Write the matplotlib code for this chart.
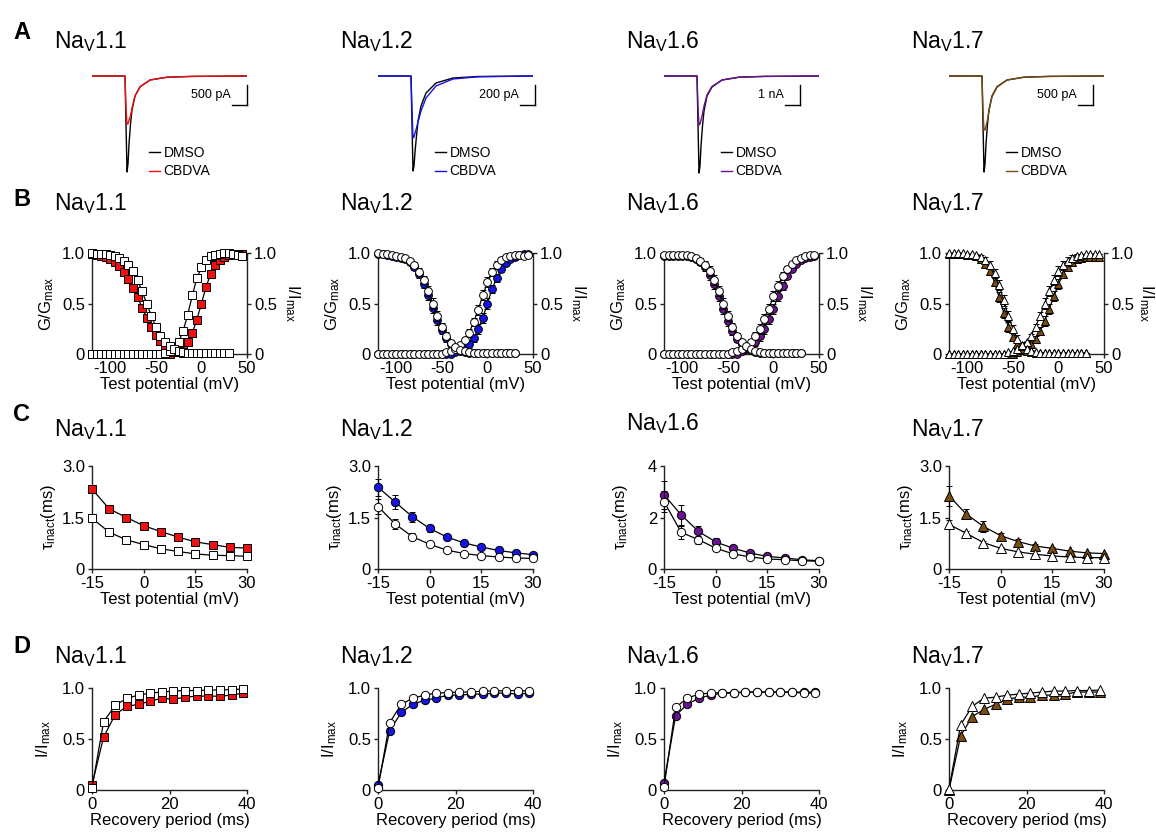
import matplotlib.pyplot as plt

plt.rcParams['font.family'] = ['Liberation Sans', 'DejaVu Sans']
plt.rcParams['mathtext.fontset'] = 'custom'
plt.rcParams['mathtext.rm'] = 'Liberation Sans'
plt.rcParams['mathtext.it'] = 'Liberation Sans:italic'
plt.rcParams['mathtext.bf'] = 'Liberation Sans:bold'
plt.rcParams['axes.unicode_minus'] = False

W, H = 1156, 836

channels = ['1.1', '1.2', '1.6', '1.7']
drug_colors = ['#f01010', '#1414e6', '#6a1290', '#7a4c10']
marks = ['s', 'o', 'o', '^']
col_x = [92, 378, 664, 949]

# ---- A: current traces (ms, pA)
trace_t = [0, 3.3, 3.4, 3.5, 3.6, 3.7, 3.85, 4.0, 4.3, 4.8, 5.8, 7.5, 10.0, 15.5]
trace_dmso = [
    [0, 0, -1200, -2400, -2200, -1700, -1200, -850, -500, -270, -100, -30, -10, 0],
    [0, 0, -480, -950, -900, -760, -600, -450, -300, -170, -70, -20, -5, 0],
    [0, 0, -2400, -4850, -4500, -3500, -2500, -1750, -1000, -550, -200, -60, -20, 0],
    [0, 0, -1200, -2400, -2200, -1700, -1200, -850, -500, -270, -100, -30, -10, 0],
]
trace_cbdva = [
    [0, 0, -800, -1200, -1200, -1100, -1000, -800, -500, -270, -100, -30, -10, 0],
    [0, 0, -350, -620, -610, -570, -520, -460, -350, -220, -100, -30, -8, 0],
    [0, 0, -1600, -2450, -2400, -2200, -1900, -1500, -950, -520, -200, -60, -20, 0],
    [0, 0, -900, -1350, -1350, -1250, -1100, -850, -520, -280, -100, -30, -10, 0],
]
scale_pa = [500, 200, 1000, 500]
scale_txt = ['500 pA', '200 pA', '1 nA', '500 pA']
scale_end = [15.5, 15.7, 13.6, 14.4]

# ---- B: activation / steady-state inactivation
v_act = list(range(-120, 50, 5))
v_inact = list(range(-120, 35, 5))
act_dmso = [
    [0, 0, 0, 0, 0, 0, 0, 0, 0, 0, 0, 0, 0, 0, 0, 0,
     0.01, 0.03, 0.06, 0.12, 0.23, 0.39, 0.58, 0.75, 0.86, 0.93, 0.97, 0.98, 0.99, 1.00, 1.00, 0.99, 0.98, 0.97],
    [0, 0, 0, 0, 0, 0, 0, 0, 0, 0, 0, 0, 0, 0, 0,
     0.02, 0.03, 0.05, 0.09, 0.14, 0.21, 0.32, 0.44, 0.58, 0.71, 0.81, 0.88, 0.93, 0.96, 0.97, 0.98, 0.98, 0.97, 0.98],
    [0, 0, 0, 0, 0, 0, 0, 0, 0, 0, 0, 0, 0, 0, 0,
     0.02, 0.034, 0.052, 0.079, 0.12, 0.175, 0.25, 0.35, 0.45, 0.57, 0.67, 0.77, 0.84, 0.89, 0.93, 0.95, 0.97, 0.98, 0.98],
    [0, 0, 0, 0, 0, 0, 0, 0, 0, 0, 0, 0, 0,
     0.018, 0.029, 0.047, 0.076, 0.12, 0.18, 0.27, 0.38, 0.50, 0.62, 0.73, 0.82, 0.88, 0.92, 0.95, 0.97, 0.98, 0.99, 0.99, 0.99, 0.99],
]
act_cbdva = [
    [0, 0, 0, 0, 0, 0, 0, 0, 0, 0, 0, 0, 0, 0, 0, 0, 0, 0,
     0.02, 0.035, 0.065, 0.12, 0.21, 0.34, 0.50, 0.66, 0.79, 0.88, 0.935, 0.965, 0.98, 0.99, 0.99, 0.99],
    [0, 0, 0, 0, 0, 0, 0, 0, 0, 0, 0, 0, 0, 0, 0, 0, 0,
     0.02, 0.034, 0.058, 0.10, 0.16, 0.25, 0.36, 0.50, 0.64, 0.75, 0.84, 0.90, 0.94, 0.965, 0.98, 0.99, 0.99],
    [0, 0, 0, 0, 0, 0, 0, 0, 0, 0, 0, 0, 0, 0, 0, 0, 0,
     0.034, 0.052, 0.08, 0.12, 0.175, 0.25, 0.35, 0.45, 0.57, 0.67, 0.77, 0.84, 0.89, 0.93, 0.95, 0.96, 0.97],
    [0, 0, 0, 0, 0, 0, 0, 0, 0, 0, 0, 0, 0, 0, 0,
     0.024, 0.039, 0.063, 0.10, 0.15, 0.23, 0.33, 0.45, 0.57, 0.69, 0.79, 0.86, 0.91, 0.94, 0.95, 0.96, 0.96, 0.96, 0.96],
]
act_err = [
    [0, 0, 0, 0, 0, 0, 0, 0, 0, 0, 0, 0, 0, 0, 0, 0, 0,
     0.02, 0.02, 0.02, 0.02, 0.02, 0.02, 0.02, 0.02, 0.02, 0.02, 0.02, 0.02, 0, 0, 0, 0, 0],
    [0, 0, 0, 0, 0, 0, 0, 0, 0, 0, 0, 0, 0, 0, 0, 0, 0,
     0.01, 0.02, 0.03, 0.04, 0.04, 0.05, 0.05, 0.05, 0.04, 0.04, 0.03, 0.02, 0.01, 0, 0, 0, 0],
    [0, 0, 0, 0, 0, 0, 0, 0, 0, 0, 0, 0, 0, 0, 0, 0, 0,
     0.01, 0.02, 0.03, 0.04, 0.05, 0.05, 0.05, 0.05, 0.05, 0.04, 0.03, 0.02, 0.01, 0, 0, 0, 0],
    [0, 0, 0, 0, 0, 0, 0, 0, 0, 0, 0, 0, 0, 0, 0, 0, 0,
     0.01, 0.02, 0.03, 0.04, 0.05, 0.05, 0.05, 0.05, 0.04, 0.04, 0.03, 0.02, 0.01, 0, 0, 0, 0],
]
inact_dmso = [
    [1.00, 0.99, 0.99, 0.99, 0.98, 0.97, 0.95, 0.92, 0.88, 0.82, 0.73, 0.62, 0.50, 0.38, 0.27, 0.18,
     0.12, 0.08, 0.05, 0.03, 0.02, 0.01, 0.01, 0.01, 0.01, 0.01, 0.01, 0.01, 0.01, 0.01, 0.01],
    [1.00, 0.99, 0.99, 0.98, 0.97, 0.96, 0.95, 0.92, 0.88, 0.81, 0.73, 0.62, 0.50, 0.38, 0.27, 0.18,
     0.11, 0.07, 0.04, 0.03, 0.02, 0.01, 0.01, 0.01, 0.01, 0.01, 0.01, 0.01, 0.01, 0.01, 0.01],
    [0.98, 0.98, 0.98, 0.98, 0.98, 0.98, 0.97, 0.95, 0.92, 0.88, 0.82, 0.73, 0.62, 0.50, 0.38, 0.27,
     0.18, 0.12, 0.08, 0.05, 0.03, 0.02, 0.01, 0.01, 0.01, 0.01, 0.01, 0.01, 0.01, 0.01, 0.01],
    [1.00, 1.00, 1.00, 1.00, 0.99, 0.99, 0.98, 0.96, 0.93, 0.88, 0.80, 0.68, 0.53, 0.38, 0.25, 0.15,
     0.085, 0.047, 0.026, 0.015, 0.01, 0.01, 0.01, 0.01, 0.01, 0.01, 0.01, 0.01, 0.01, 0.01, 0.01],
]
inact_cbdva = [
    [0.99, 0.98, 0.97, 0.96, 0.94, 0.91, 0.87, 0.81, 0.74, 0.65, 0.56, 0.46, 0.36, 0.27, 0.19, 0.13,
     0.08, 0.05, 0.03, 0.02, 0.01, 0.01, 0.01, 0.01, 0.01, 0.01, 0.01, 0.01, 0.01, 0.01, 0.01],
    [0.99, 0.99, 0.98, 0.97, 0.96, 0.95, 0.94, 0.91, 0.86, 0.79, 0.69, 0.58, 0.46, 0.34, 0.24, 0.16,
     0.10, 0.06, 0.04, 0.02, 0.01, 0.01, 0.01, 0.01, 0.01, 0.01, 0.01, 0.01, 0.01, 0.01, 0.01],
    [0.97, 0.97, 0.97, 0.97, 0.97, 0.97, 0.96, 0.94, 0.91, 0.86, 0.78, 0.69, 0.57, 0.45, 0.33, 0.23,
     0.15, 0.10, 0.06, 0.04, 0.02, 0.01, 0.01, 0.01, 0.01, 0.01, 0.01, 0.01, 0.01, 0.01, 0.01],
    [0.99, 0.99, 0.99, 0.99, 0.98, 0.98, 0.97, 0.94, 0.89, 0.82, 0.71, 0.56, 0.41, 0.27, 0.17, 0.095,
     0.053, 0.03, 0.016, 0.01, 0.01, 0.01, 0.01, 0.01, 0.01, 0.01, 0.01, 0.01, 0.01, 0.01, 0.01],
]
inact_err = [
    [0, 0, 0, 0, 0, 0, 0.01, 0.01, 0.02, 0.02, 0.02, 0.02, 0.02, 0.02, 0.02, 0.02, 0.01, 0.01,
     0, 0, 0, 0, 0, 0, 0, 0, 0, 0, 0, 0, 0],
    [0, 0, 0, 0, 0, 0, 0.01, 0.02, 0.03, 0.04, 0.04, 0.05, 0.05, 0.05, 0.04, 0.04, 0.03, 0.02,
     0.01, 0, 0, 0, 0, 0, 0, 0, 0, 0, 0, 0, 0],
    [0, 0, 0, 0, 0, 0, 0.01, 0.02, 0.03, 0.04, 0.05, 0.05, 0.05, 0.05, 0.05, 0.04, 0.03, 0.02,
     0.01, 0, 0, 0, 0, 0, 0, 0, 0, 0, 0, 0, 0],
    [0, 0, 0, 0, 0, 0, 0.01, 0.02, 0.03, 0.04, 0.04, 0.05, 0.05, 0.05, 0.04, 0.04, 0.03, 0.02,
     0.01, 0, 0, 0, 0, 0, 0, 0, 0, 0, 0, 0, 0],
]

# ---- C: inactivation time constants
v_tau = [-15, -10, -5, 0, 5, 10, 15, 20, 25, 30]
tau_dmso = [
    [1.48, 1.07, 0.85, 0.71, 0.59, 0.51, 0.44, 0.40, 0.39, 0.37],
    [1.82, 1.31, 0.94, 0.72, 0.55, 0.45, 0.39, 0.35, 0.32, 0.31],
    [2.62, 1.42, 1.14, 0.81, 0.59, 0.47, 0.39, 0.36, 0.32, 0.30],
    [1.30, 1.04, 0.77, 0.60, 0.50, 0.43, 0.38, 0.35, 0.33, 0.33],
]
tau_dmso_err = [
    [0.06, 0.04, 0.03, 0.03, 0.02, 0.02, 0.02, 0.02, 0.02, 0.02],
    [0.22, 0.15, 0.10, 0.05, 0.04, 0.03, 0.02, 0.02, 0.02, 0.02],
    [0.40, 0.25, 0.15, 0.10, 0.05, 0.04, 0.03, 0.02, 0.02, 0.02],
    [0.12, 0.08, 0.05, 0.04, 0.03, 0.02, 0.02, 0.02, 0.02, 0.02],
]
tau_cbdva = [
    [2.33, 1.75, 1.50, 1.26, 1.09, 0.93, 0.79, 0.71, 0.63, 0.61],
    [2.38, 1.95, 1.52, 1.18, 0.93, 0.76, 0.64, 0.54, 0.47, 0.42],
    [2.88, 2.10, 1.46, 1.05, 0.81, 0.62, 0.49, 0.43, 0.36, 0.32],
    [2.13, 1.60, 1.24, 0.97, 0.80, 0.67, 0.60, 0.52, 0.47, 0.45],
]
tau_cbdva_err = [
    [0.08, 0.06, 0.05, 0.04, 0.04, 0.03, 0.03, 0.03, 0.02, 0.02],
    [0.25, 0.20, 0.15, 0.10, 0.06, 0.05, 0.04, 0.03, 0.03, 0.02],
    [0.55, 0.40, 0.22, 0.15, 0.08, 0.06, 0.04, 0.03, 0.03, 0.02],
    [0.30, 0.15, 0.15, 0.08, 0.06, 0.05, 0.04, 0.03, 0.03, 0.03],
]
tau_ymax = [3.0, 3.0, 4.0, 3.0]
tau_yticks = [[0, 1.5, 3.0], [0, 1.5, 3.0], [0, 2, 4], [0, 1.5, 3.0]]
tau_ylabels = [['0', '1.5', '3.0'], ['0', '1.5', '3.0'], ['0', '2', '4'], ['0', '1.5', '3.0']]

# ---- D: recovery from inactivation
t_rec = [0, 3, 6, 9, 12, 15, 18, 21, 24, 27, 30, 33, 36, 39]
rec_dmso = [
    [0.02, 0.67, 0.83, 0.90, 0.93, 0.95, 0.96, 0.97, 0.975, 0.975, 0.98, 0.98, 0.985, 0.99],
    [0.02, 0.66, 0.84, 0.90, 0.93, 0.95, 0.955, 0.96, 0.96, 0.97, 0.97, 0.975, 0.975, 0.97],
    [0.03, 0.81, 0.90, 0.94, 0.95, 0.955, 0.955, 0.96, 0.96, 0.96, 0.96, 0.96, 0.95, 0.95],
    [0.01, 0.64, 0.82, 0.90, 0.91, 0.93, 0.94, 0.95, 0.96, 0.97, 0.97, 0.975, 0.975, 0.98],
]
rec_cbdva = [
    [0.05, 0.52, 0.74, 0.82, 0.84, 0.87, 0.90, 0.89, 0.91, 0.92, 0.92, 0.92, 0.93, 0.95],
    [0.05, 0.58, 0.76, 0.84, 0.88, 0.90, 0.93, 0.93, 0.94, 0.94, 0.95, 0.95, 0.94, 0.95],
    [0.07, 0.73, 0.84, 0.90, 0.93, 0.95, 0.95, 0.96, 0.96, 0.96, 0.96, 0.96, 0.96, 0.96],
    [0.00, 0.53, 0.72, 0.79, 0.84, 0.89, 0.91, 0.91, 0.93, 0.93, 0.94, 0.96, 0.96, 0.96],
]

fig = plt.figure(figsize=(W / 100, H / 100), dpi=100)


def px_ax(x, y, w, h):
    return fig.add_axes([x / W, 1 - (y + h) / H, w / W, h / H])


def gp_style(ax):
    ax.spines['top'].set_visible(False)
    ax.spines['right'].set_visible(False)
    for s in ax.spines.values():
        s.set_linewidth(1.0)
        s.set_color('#222222')
    ax.tick_params(direction='out', length=3, width=1, labelsize=12, pad=2, colors='#222222')
    ax.tick_params(labelcolor='black')


def mk(i, filled, size):
    if marks[i] == '^':
        size = size * 1.15
    return dict(marker=marks[i], ms=size,
                mfc=drug_colors[i] if filled else 'white', mec='black', mew=0.7,
                color='black', lw=0.9)


def title(i, y):
    fig.text((col_x[i] - 38) / W, 1 - y / H, 'Na$_\\mathrm{V}$' + channels[i], fontsize=16.5, va='baseline')


for letter, y in zip('ABCD', [39, 206, 421, 653]):
    fig.text(13 / W, 1 - y / H, letter, fontsize=17, fontweight='bold', va='baseline')

ebar = dict(capsize=2, elinewidth=0.8, capthick=0.8, ecolor='black', clip_on=False)

for i in range(4):
    # A
    title(i, 48)
    ax = px_ax(col_x[i], 60, 155, 120)
    u = scale_pa[i] / 20.0
    ax.set_xlim(0, 15.5)
    ax.set_ylim(-104 * u, 16 * u)
    ax.axis('off')
    l1, = ax.plot(trace_t, trace_dmso[i], color='black', lw=1.0, label='DMSO')
    l2, = ax.plot(trace_t, trace_cbdva[i], color=drug_colors[i], lw=1.0, label='CBDVA')
    xe = scale_end[i]
    ax.plot([xe, xe], [-9 * u, -29 * u], color='black', lw=1.0, clip_on=False)
    ax.plot([xe - 1.5, xe], [-29 * u, -29 * u], color='black', lw=1.0, clip_on=False)
    ax.text(xe - 1.6, -19 * u, scale_txt[i], fontsize=9, ha='right', va='center')
    ax.legend(handles=[l1, l2], loc='center left',
              bbox_to_anchor=((col_x[i] + 57) / W, 1 - 162 / H), bbox_transform=fig.transFigure,
              frameon=False, fontsize=10, handlelength=0.8, handletextpad=0.25,
              labelspacing=0.35, borderpad=0, borderaxespad=0)

    # B
    title(i, 210)
    ax = px_ax(col_x[i], 253, 155, 101)
    gp_style(ax)
    ax.spines['right'].set_visible(True)
    ax.errorbar(v_act, act_cbdva[i], yerr=act_err[i], zorder=3, **ebar, **mk(i, True, 5.6))
    ax.errorbar(v_inact, inact_cbdva[i], yerr=inact_err[i], zorder=3, **ebar, **mk(i, True, 5.6))
    ax.errorbar(v_act, act_dmso[i], yerr=act_err[i], zorder=4, **ebar, **mk(i, False, 5.6))
    ax.errorbar(v_inact, inact_dmso[i], yerr=inact_err[i], zorder=4, **ebar, **mk(i, False, 5.6))
    ax.set_xlim(-120, 50)
    ax.set_ylim(0, 1)
    ax.set_xticks([-100, -50, 0, 50])
    ax.set_yticks([0, 0.5, 1.0])
    ax.set_yticklabels(['0', '0.5', '1.0'])
    ax.tick_params(axis='y', right=True, labelright=True)
    ax.set_xlabel('Test potential (mV)', fontsize=12, labelpad=1)
    ax.set_ylabel('G/G$_\\mathrm{max}$', fontsize=12)
    ax.yaxis.set_label_coords(-0.23, 0.5)
    fig.text(min(col_x[i] + 155 + 45, 1146) / W, 1 - 303 / H, 'I/I$_\\mathrm{max}$', fontsize=12,
             rotation=270, ha='center', va='center')

    # C
    title(i, 430 if i == 2 else 436)
    ax = px_ax(col_x[i], 466, 155, 103)
    gp_style(ax)
    ax.errorbar(v_tau, tau_cbdva[i], yerr=tau_cbdva_err[i], zorder=3, **ebar, **mk(i, True, 6))
    ax.errorbar(v_tau, tau_dmso[i], yerr=tau_dmso_err[i], zorder=4, **ebar, **mk(i, False, 6))
    ax.set_xlim(-15, 30)
    ax.set_ylim(0, tau_ymax[i])
    ax.set_xticks([-15, 0, 15, 30])
    ax.set_yticks(tau_yticks[i])
    ax.set_yticklabels(tau_ylabels[i])
    ax.set_xlabel('Test potential (mV)', fontsize=12, labelpad=1)
    ax.set_ylabel('τ$_\\mathrm{inact}$(ms)', fontsize=12)
    ax.yaxis.set_label_coords(-0.22, 0.5)

    # D
    title(i, 663)
    ax = px_ax(col_x[i], 688, 155, 102)
    gp_style(ax)
    ax.plot(t_rec, rec_cbdva[i], clip_on=False, zorder=3, **mk(i, True, 6))
    ax.plot(t_rec, rec_dmso[i], clip_on=False, zorder=4, **mk(i, False, 6))
    ax.set_xlim(0, 40)
    ax.set_ylim(0, 1)
    ax.set_xticks([0, 20, 40])
    ax.set_yticks([0, 0.5, 1.0])
    ax.set_yticklabels(['0', '0.5', '1.0'])
    ax.set_xlabel('Recovery period (ms)', fontsize=12, labelpad=1)
    ax.set_ylabel('I/I$_\\mathrm{max}$', fontsize=12)
    ax.yaxis.set_label_coords(-0.25, 0.5)

fig.savefig('out.png', dpi=100)
